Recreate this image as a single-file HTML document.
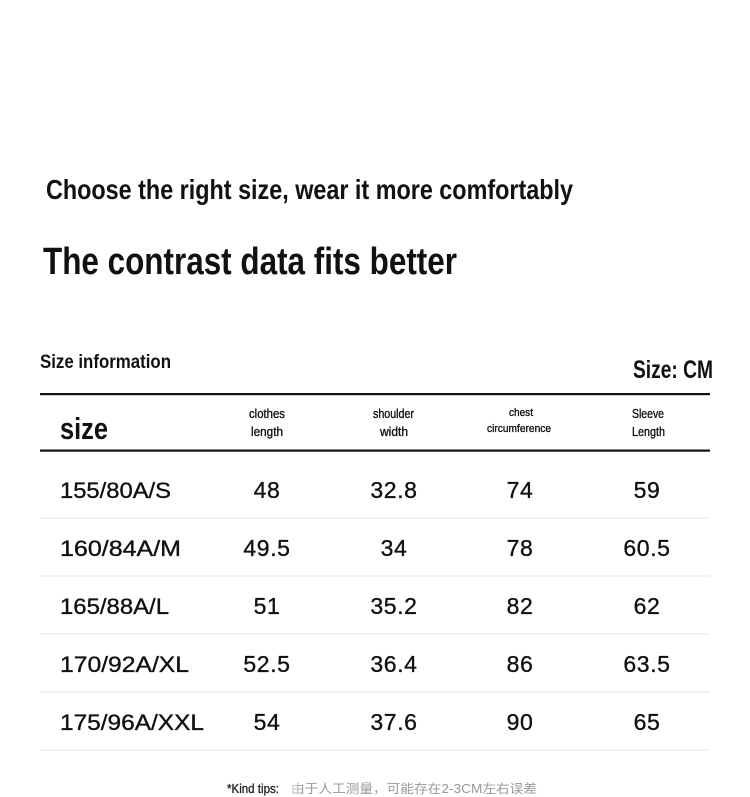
<!DOCTYPE html>
<html>
<head>
<meta charset="utf-8">
<style>
  html,body{margin:0;padding:0;background:#fff;}
  body{width:750px;height:797px;overflow:hidden;}
  svg{display:block;}
  .c{font-family:"Liberation Sans","Noto Sans CJK SC",sans-serif;fill:#111;}
</style>
</head>
<body>
<svg width="750" height="797" viewBox="0 0 750 797" xmlns="http://www.w3.org/2000/svg">
  <rect width="750" height="797" fill="#fff"/>
  <!-- titles -->
  <text class="c" x="46" y="199" font-size="28" font-weight="bold" textLength="527" lengthAdjust="spacingAndGlyphs">Choose the right size, wear it more comfortably</text>
  <text class="c" x="43" y="274" font-size="38" font-weight="bold" textLength="414" lengthAdjust="spacingAndGlyphs">The contrast data fits better</text>

  <text class="c" x="40" y="368" font-size="19" font-weight="bold" textLength="131" lengthAdjust="spacingAndGlyphs">Size information</text>
  <text class="c" x="633" y="378" font-size="25" font-weight="bold" textLength="80" lengthAdjust="spacingAndGlyphs">Size: CM</text>

  <!-- header lines -->
  <rect x="40" y="393" width="670" height="2.2" fill="#111"/>
  <rect x="40" y="449.5" width="670" height="2.2" fill="#111"/>

  <!-- header -->
  <text class="c" x="60" y="439" font-size="31" font-weight="bold" textLength="48" lengthAdjust="spacingAndGlyphs">size</text>

  <g class="c" stroke="#111" stroke-width="0.35">
  <text x="249" y="418" font-size="13" textLength="36" lengthAdjust="spacingAndGlyphs">clothes</text>
  <text x="251" y="436" font-size="13" textLength="32" lengthAdjust="spacingAndGlyphs">length</text>

  <text x="373" y="418" font-size="13" textLength="41" lengthAdjust="spacingAndGlyphs">shoulder</text>
  <text x="380" y="436" font-size="13" textLength="28" lengthAdjust="spacingAndGlyphs">width</text>

  <text x="509" y="416" font-size="11" textLength="24" lengthAdjust="spacingAndGlyphs">chest</text>
  <text x="487" y="432" font-size="11" textLength="64" lengthAdjust="spacingAndGlyphs">circumference</text>

  <text x="632" y="418" font-size="13" textLength="32" lengthAdjust="spacingAndGlyphs">Sleeve</text>
  <text x="632" y="436" font-size="13" textLength="33" lengthAdjust="spacingAndGlyphs">Length</text>
  </g>

  <!-- row separators -->
  <rect x="40" y="517.5" width="670" height="1" fill="#e4e4e4"/>
  <rect x="40" y="575.5" width="670" height="1" fill="#e4e4e4"/>
  <rect x="40" y="633.5" width="670" height="1" fill="#e4e4e4"/>
  <rect x="40" y="691.5" width="670" height="1" fill="#e4e4e4"/>
  <rect x="40" y="749.5" width="670" height="1" fill="#e4e4e4"/>

  <!-- rows -->
  <g class="c" font-size="22" stroke="#111" stroke-width="0.35">
    <text x="60" y="498" textLength="111" lengthAdjust="spacingAndGlyphs">155/80A/S</text>
    <text x="60" y="556" textLength="121" lengthAdjust="spacingAndGlyphs">160/84A/M</text>
    <text x="60" y="614" textLength="109" lengthAdjust="spacingAndGlyphs">165/88A/L</text>
    <text x="60" y="672" textLength="129" lengthAdjust="spacingAndGlyphs">170/92A/XL</text>
    <text x="60" y="730" textLength="144" lengthAdjust="spacingAndGlyphs">175/96A/XXL</text>
  </g>
  <g class="c" font-size="23" text-anchor="middle" letter-spacing="0.6" stroke="#111" stroke-width="0.35">
    <text x="267" y="498">48</text>
    <text x="394" y="498">32.8</text>
    <text x="520" y="498">74</text>
    <text x="647" y="498">59</text>

    <text x="267" y="556">49.5</text>
    <text x="394" y="556">34</text>
    <text x="520" y="556">78</text>
    <text x="647" y="556">60.5</text>

    <text x="267" y="614">51</text>
    <text x="394" y="614">35.2</text>
    <text x="520" y="614">82</text>
    <text x="647" y="614">62</text>

    <text x="267" y="672">52.5</text>
    <text x="394" y="672">36.4</text>
    <text x="520" y="672">86</text>
    <text x="647" y="672">63.5</text>

    <text x="267" y="730">54</text>
    <text x="394" y="730">37.6</text>
    <text x="520" y="730">90</text>
    <text x="647" y="730">65</text>
  </g>

  <!-- tips -->
  <text class="c" x="227" y="793" font-size="13" textLength="52" lengthAdjust="spacingAndGlyphs" style="fill:#222" stroke="#222" stroke-width="0.3">*Kind tips:</text>
  <text x="291" y="793" font-size="12.5" font-family="'Liberation Sans','Noto Sans CJK SC',sans-serif" fill="#999" textLength="246" lengthAdjust="spacingAndGlyphs">由于人工测量，可能存在2-3CM左右误差</text>
  <defs>
    <linearGradient id="fade" x1="0" x2="1" y1="0" y2="0">
      <stop offset="0" stop-color="#fff" stop-opacity="0.9"/>
      <stop offset="1" stop-color="#fff" stop-opacity="0"/>
    </linearGradient>
  </defs>
  <rect x="283" y="779" width="20" height="18" fill="url(#fade)"/>
</svg>
</body>
</html>
